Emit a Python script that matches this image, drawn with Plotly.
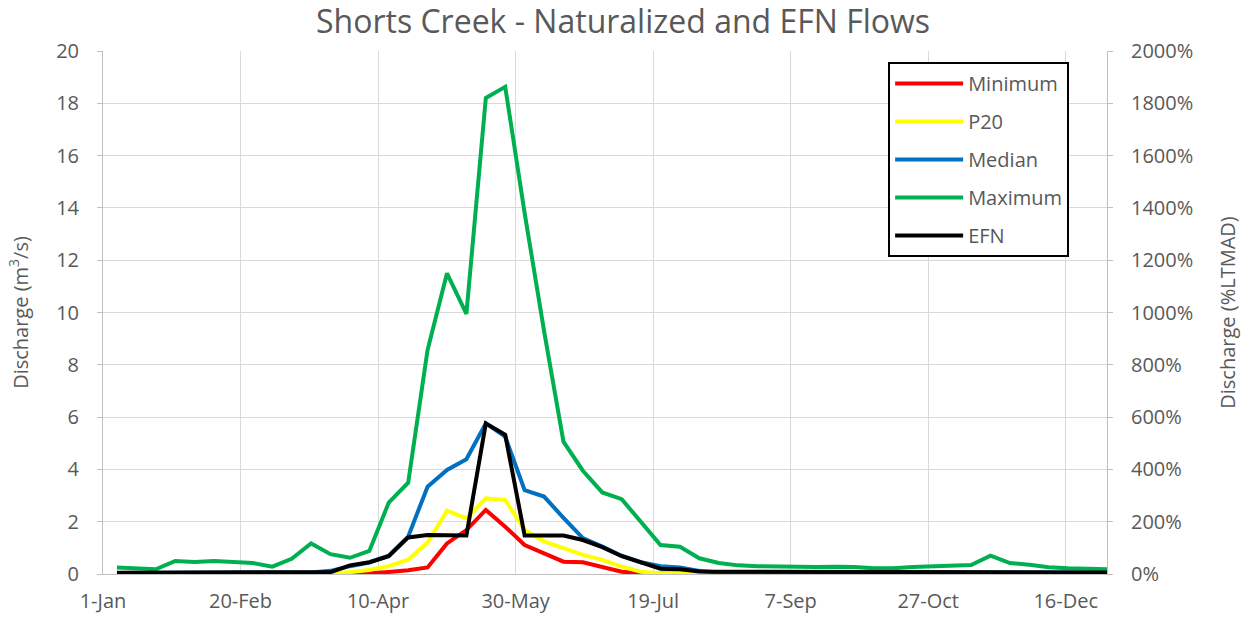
import plotly.graph_objects as go
import pandas as pd

# Weekly data points spanning the year (2020 axis, leap year so ticks read 10-Apr, 30-May ...)
dates = pd.date_range("2020-01-06 02:00", "2020-12-31 00:00", periods=52)

minimum = [0.01]*13 + [0.03, 0.08, 0.14, 0.25, 1.17, 1.68, 2.45, 1.81, 1.11, 0.79, 0.47,
                       0.45, 0.28, 0.09, 0.03] + [0.01]*24
p20 = [0.02]*11 + [0.04, 0.07, 0.15, 0.30, 0.55, 1.20, 2.42, 2.13, 2.89, 2.83, 1.68, 1.25,
                   0.98, 0.73, 0.54, 0.28, 0.09, 0.03] + [0.02]*23
median = [0.04]*10 + [0.06, 0.12, 0.30, 0.44, 0.70, 1.43, 3.34, 3.98, 4.39, 5.76, 5.25, 3.21,
                      2.96, 2.15, 1.37, 1.05, 0.70, 0.45, 0.30, 0.25, 0.12] + [0.06]*21
maximum = [0.25, 0.22, 0.18, 0.50, 0.46, 0.50, 0.45, 0.42, 0.28, 0.58, 1.17, 0.76, 0.62,
           0.88, 2.73, 3.49, 8.57, 11.5, 9.95, 18.2, 18.63, 13.8, 9.3, 5.06, 3.95, 3.12,
           2.86, 1.96, 1.11, 1.04, 0.60, 0.42, 0.33, 0.30, 0.28, 0.28, 0.27, 0.28, 0.27,
           0.22, 0.22, 0.27, 0.30, 0.32, 0.34, 0.70, 0.42, 0.35, 0.26, 0.22, 0.20, 0.18]
efn = [0.05]*11 + [0.07, 0.33, 0.45, 0.68, 1.40, 1.49, 1.49, 1.47, 5.76, 5.32, 1.47, 1.47,
                   1.47, 1.30, 1.03, 0.68, 0.42, 0.20, 0.18, 0.10] + [0.09]*13 + [0.06]*8

series_names = ["Minimum", "P20", "Median", "Maximum", "EFN"]
series_colors = ["#FF0000", "#FFFF00", "#0070C0", "#00B050", "#000000"]
series_values = [minimum, p20, median, maximum, efn]

tick_dates = ["2020-01-01", "2020-02-20", "2020-04-10", "2020-05-30",
              "2020-07-19", "2020-09-07", "2020-10-27", "2020-12-16"]
tick_labels = ["1-Jan", "20-Feb", "10-Apr", "30-May", "19-Jul", "7-Sep", "27-Oct", "16-Dec"]
y_ticks = list(range(0, 21, 2))
y2_ticks = list(range(0, 2001, 200))
y2_labels = [f"{v}%" for v in y2_ticks]

FONT = "Open Sans"
GREY = "#595959"

fig = go.Figure()
for name, col, vals in zip(series_names, series_colors, series_values):
    fig.add_trace(go.Scatter(x=dates, y=vals, name=name, mode="lines",
                             legendgroup=name,
                             line=dict(color=col, width=4)))

# secondary axis carrier (invisible)
fig.add_trace(go.Scatter(x=[dates[0]], y=[0], yaxis="y2", mode="none",
                         showlegend=False, hoverinfo="skip"))

fig.update_layout(
    width=1246, height=620,
    paper_bgcolor="white", plot_bgcolor="white",
    margin=dict(l=103, r=139, t=51, b=46, autoexpand=False),
    font=dict(family=FONT, color=GREY, size=20),
    title=dict(text="Shorts Creek - Naturalized and EFN Flows",
               x=0.5, xanchor="center", y=0.965, yanchor="middle",
               font=dict(family=FONT, size=32, color=GREY)),
    xaxis=dict(type="date", range=["2020-01-01", "2020-12-31"],
               tickvals=tick_dates, ticktext=tick_labels,
               showgrid=True, gridcolor="#D9D9D9", gridwidth=1,
               showline=True, linecolor="#BFBFBF", linewidth=1,
               ticks="", zeroline=False, ticklabelstandoff=9,
               tickfont=dict(size=20, color=GREY)),
    yaxis=dict(range=[0, 20], tickvals=y_ticks,
               showgrid=True, gridcolor="#D9D9D9", gridwidth=1,
               showline=True, linecolor="#BFBFBF", linewidth=1,
               ticks="outside", ticklen=5, tickcolor="#BFBFBF",
               zeroline=False, ticklabelstandoff=14,
               tickfont=dict(size=20, color=GREY),
               title=dict(text="Discharge (m<sup>3</sup>/s)", standoff=22,
                          font=dict(size=20, color=GREY))),
    yaxis2=dict(range=[0, 2000], tickvals=y2_ticks, ticktext=y2_labels,
                overlaying="y", side="right", showgrid=False,
                showline=True, linecolor="#BFBFBF", linewidth=1,
                ticks="outside", ticklen=5, tickcolor="#BFBFBF",
                zeroline=False, ticklabelstandoff=14,
                tickfont=dict(size=20, color=GREY),
                title=dict(text="Discharge (%LTMAD)", standoff=28,
                           font=dict(size=20, color=GREY))),
    legend=dict(x=0.782, y=0.979, xanchor="left", yanchor="top",
                bgcolor="white", bordercolor="black", borderwidth=2,
                tracegroupgap=9, itemwidth=68,
                font=dict(family=FONT, size=20, color=GREY)),
    showlegend=True,
)

fig.write_html("out.html", config={"displayModeBar": False},
               post_script="document.body.style.margin='0px';")
